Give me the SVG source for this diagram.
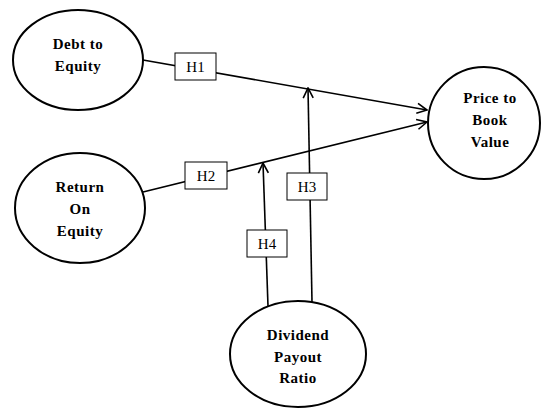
<svg xmlns="http://www.w3.org/2000/svg" width="543" height="408" viewBox="0 0 543 408">
<style>
.node{fill:#fff;stroke:#000;stroke-width:2}
.lbl{font-family:"Liberation Serif","Times New Roman",serif;font-weight:bold;font-size:15px;text-anchor:middle;letter-spacing:0.5px}
.box{fill:#fff;stroke:#000;stroke-width:1}
.h{font-family:"Liberation Serif","Times New Roman",serif;font-size:15px;text-anchor:middle}
.ln{fill:none;stroke:#000;stroke-width:1.6}
</style>
<defs>
<marker id="arr" viewBox="0 0 12 12" refX="11" refY="6" markerWidth="12" markerHeight="12" markerUnits="userSpaceOnUse" orient="auto">
<path d="M1,1 L11,6 L1,11" fill="none" stroke="#000" stroke-width="1.6"/>
</marker>
</defs>
<g id="connectors">
<line class="ln" x1="143" y1="60" x2="427" y2="110" marker-end="url(#arr)"/>
<line class="ln" x1="143" y1="192" x2="427" y2="122" marker-end="url(#arr)"/>
<line class="ln" x1="312" y1="302" x2="308" y2="88" marker-end="url(#arr)"/>
<line class="ln" x1="268" y1="306" x2="263" y2="163" marker-end="url(#arr)"/>
<g id="h1"><rect class="box" x="175" y="53" width="41" height="27"/><text class="h" x="195.5" y="72">H1</text></g>
<g id="h2"><rect class="box" x="185" y="162" width="42" height="27"/><text class="h" x="206" y="181">H2</text></g>
<g id="h3"><rect class="box" x="287" y="173" width="40" height="27"/><text class="h" x="307" y="192">H3</text></g>
<g id="h4"><rect class="box" x="247" y="230" width="40" height="27"/><text class="h" x="267" y="249">H4</text></g>
</g>
<g id="debt">
<ellipse class="node" cx="78" cy="60" rx="65" ry="50"/>
<text class="lbl" x="78" y="49">Debt to</text>
<text class="lbl" x="78" y="71">Equity</text>
</g>
<g id="roe">
<ellipse class="node" cx="80" cy="208" rx="65" ry="55"/>
<text class="lbl" x="80" y="192">Return</text>
<text class="lbl" x="80" y="214">On</text>
<text class="lbl" x="80" y="236">Equity</text>
</g>
<g id="pbv">
<ellipse class="node" cx="484" cy="123" rx="56" ry="56"/>
<text class="lbl" x="490" y="103">Price to</text>
<text class="lbl" x="490" y="125">Book</text>
<text class="lbl" x="490" y="147">Value</text>
</g>
<g id="dpr">
<ellipse class="node" cx="298" cy="354" rx="68" ry="53"/>
<text class="lbl" x="298" y="340">Dividend</text>
<text class="lbl" x="298" y="362">Payout</text>
<text class="lbl" x="298" y="383">Ratio</text>
</g>
</svg>
